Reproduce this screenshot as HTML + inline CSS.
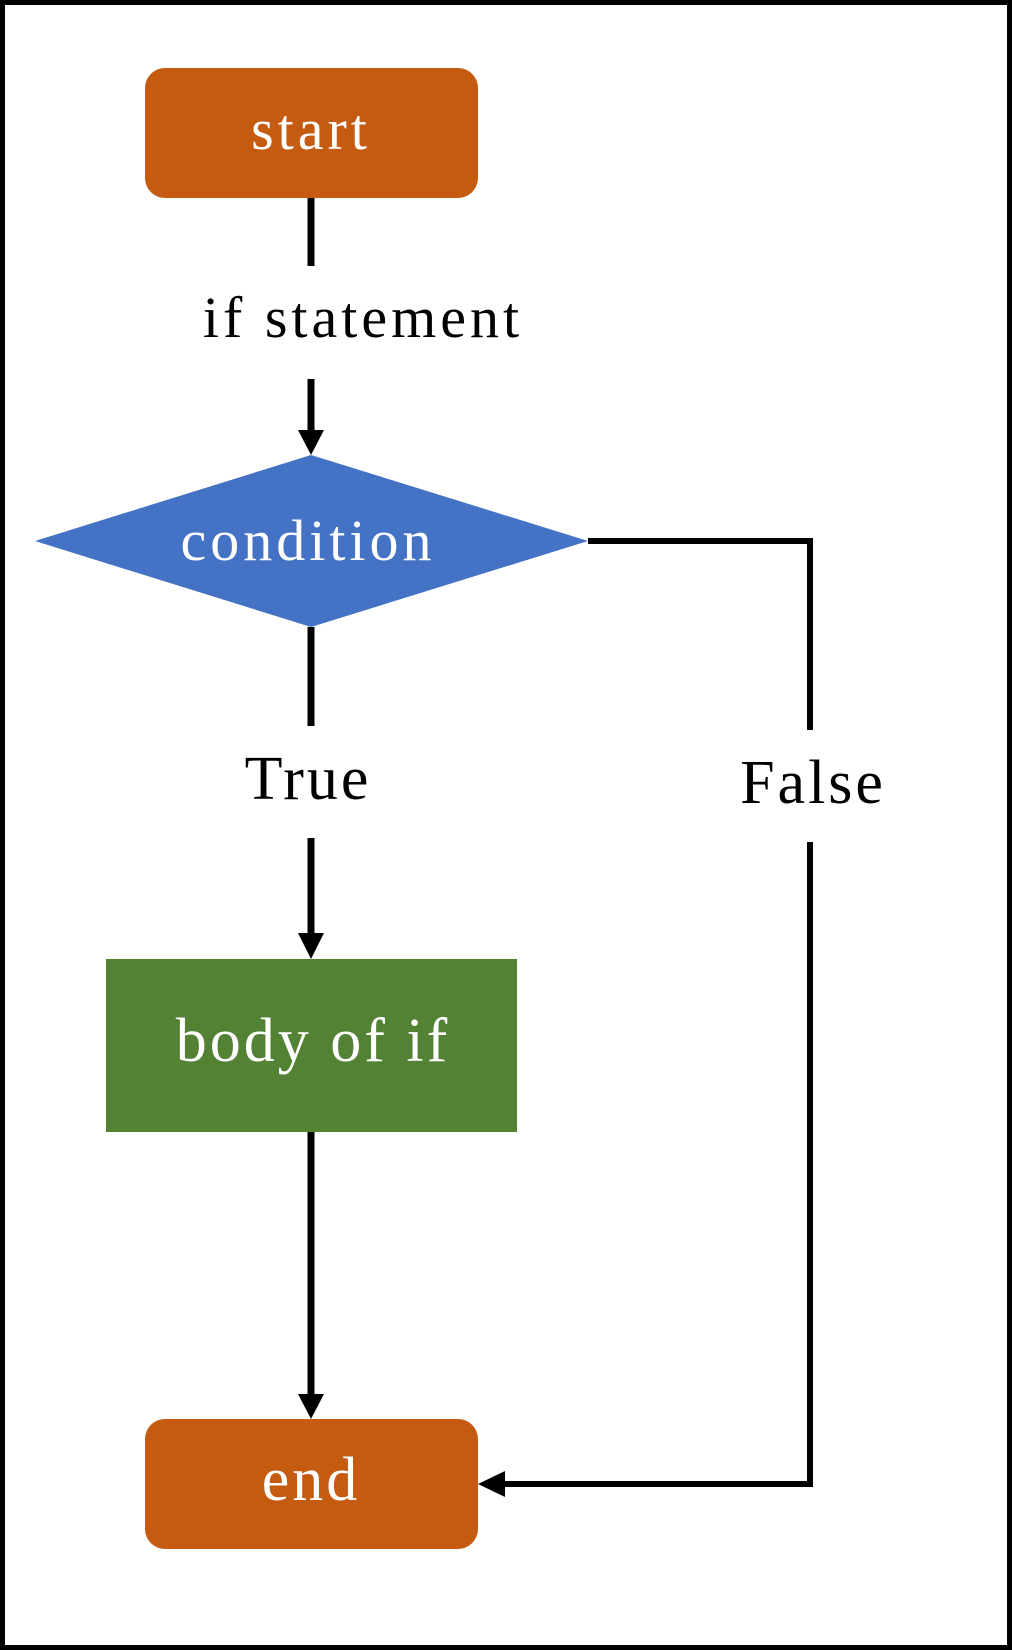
<!DOCTYPE html>
<html><head><style>
html,body{margin:0;padding:0;background:#fff;}
svg{display:block;}
text{font-family:"Liberation Serif",serif;}
</style></head><body>
<svg width="1012" height="1650" viewBox="0 0 1012 1650" xmlns="http://www.w3.org/2000/svg">
<rect x="2.5" y="2.5" width="1007" height="1645" fill="#fff" stroke="#000" stroke-width="5"/>
<rect x="145" y="68" width="333" height="130" rx="20" fill="#c55a11"/>
<text x="311" y="149" font-size="58" fill="#fff" text-anchor="middle" letter-spacing="4">start</text>
<line x1="311" y1="198" x2="311" y2="266" stroke="#000" stroke-width="7"/>
<text x="363" y="337" font-size="58" fill="#000" text-anchor="middle" letter-spacing="4">if statement</text>
<line x1="311" y1="379" x2="311" y2="432" stroke="#000" stroke-width="7"/>
<polygon points="298,430 324,430 311,455" fill="#000"/>
<polygon points="35,541 311,455 588,541 311,627" fill="#4472c4"/>
<text x="308" y="560" font-size="58" fill="#fff" text-anchor="middle" letter-spacing="4">condition</text>
<line x1="311" y1="627" x2="311" y2="726" stroke="#000" stroke-width="7"/>
<text x="308" y="799" font-size="62" fill="#000" text-anchor="middle" letter-spacing="3">True</text>
<line x1="311" y1="838" x2="311" y2="935" stroke="#000" stroke-width="7"/>
<polygon points="298,933 324,933 311,959" fill="#000"/>
<rect x="106" y="959" width="411" height="173" fill="#548235"/>
<text x="313" y="1061" font-size="62" fill="#fff" text-anchor="middle" letter-spacing="3">body of if</text>
<line x1="311" y1="1132" x2="311" y2="1396" stroke="#000" stroke-width="7"/>
<polygon points="298,1394 324,1394 311,1419" fill="#000"/>
<rect x="145" y="1419" width="333" height="130" rx="20" fill="#c55a11"/>
<text x="311" y="1500" font-size="62" fill="#fff" text-anchor="middle" letter-spacing="3">end</text>
<polyline points="588,541 810,541 810,730" fill="none" stroke="#000" stroke-width="6"/>
<text x="813" y="803" font-size="62" fill="#000" text-anchor="middle" letter-spacing="3">False</text>
<polyline points="810,842 810,1484 500,1484" fill="none" stroke="#000" stroke-width="6"/>
<polygon points="478,1484 505,1471 505,1497" fill="#000"/>
</svg>
</body></html>
